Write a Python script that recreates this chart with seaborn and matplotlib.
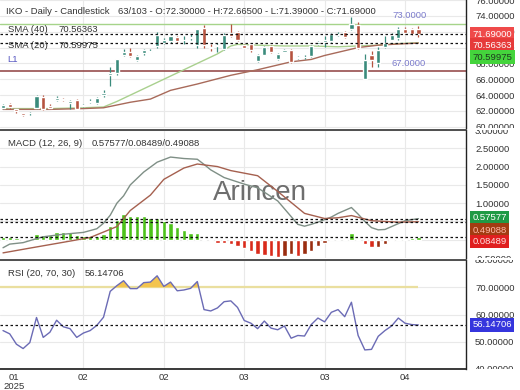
import numpy as np
import matplotlib
matplotlib.use("Agg")
import matplotlib.pyplot as plt
import seaborn as sns
from matplotlib.ticker import FormatStrFormatter
from matplotlib.transforms import Bbox, TransformedBbox

# daily candles (63 sessions)
opens = [62.4, 62.9, 62.2, 61.7, 61.7, 62.4, 63.8, 62.6, 63.4, 63.5,
         63.0, 63.4, 62.6, 63.1, 63.0, 64.0, 66.6, 66.8, 69.1, 69.5,
         68.4, 69.3, 69.5, 70.2, 70.6, 70.8, 71.3, 70.9, 71.2, 70.3,
         72.5, 70.1, 70.2, 69.8, 71.8, 72.0, 70.3, 70.5, 68.3, 69.1,
         70.2, 68.5, 69.5, 69.7, 68.7, 68.8, 68.9, 70.4, 70.7, 70.8,
         71.6, 72.0, 72.4, 72.8, 66.0, 69.0, 68.0, 70.1, 71.0, 71.2,
         72.4, 72.3, 72.3]
highs = [62.9, 63.0, 62.3, 61.8, 61.9, 64.0, 64.0, 62.9, 63.9, 63.6,
         63.4, 63.5, 62.9, 63.5, 63.7, 64.6, 67.5, 68.6, 69.8, 69.9,
         69.0, 69.8, 69.8, 71.9, 71.2, 71.6, 71.4, 71.4, 71.7, 72.4,
         72.8, 70.4, 70.6, 71.8, 73.0, 72.1, 70.4, 70.6, 69.2, 70.2,
         70.3, 69.3, 69.8, 69.8, 68.9, 69.0, 70.3, 70.8, 71.4, 71.8,
         71.9, 72.1, 73.9, 73.2, 69.2, 69.6, 70.1, 71.5, 71.8, 72.6,
         72.6, 72.5, 72.665]
lows = [62.3, 62.3, 61.7, 61.4, 61.5, 62.3, 62.1, 62.2, 63.2, 63.3,
        62.2, 62.2, 62.5, 63.0, 62.9, 63.8, 65.1, 66.6, 68.9, 68.8,
        68.3, 69.1, 69.4, 70.0, 70.4, 70.6, 70.6, 70.4, 70.9, 70.0,
        70.0, 69.6, 69.4, 69.7, 71.3, 70.8, 69.9, 69.5, 68.2, 69.0,
        69.3, 68.4, 69.4, 68.0, 68.5, 68.6, 68.8, 70.3, 70.1, 70.7,
        71.4, 71.2, 72.2, 69.8, 66.0, 67.6, 67.6, 69.9, 70.9, 71.0,
        71.7, 71.6, 71.39]
closes = [62.7, 62.5, 62.0, 61.5, 61.8, 63.9, 62.2, 62.4, 63.6, 63.4,
          63.2, 62.3, 62.8, 63.2, 63.6, 64.3, 66.8, 68.5, 69.4, 68.9,
          68.9, 69.7, 69.6, 71.6, 70.9, 71.4, 70.8, 71.0, 71.3, 72.3,
          70.3, 70.0, 70.3, 71.6, 71.5, 70.9, 70.0, 69.7, 69.1, 70.1,
          69.4, 69.2, 69.7, 68.2, 68.75, 68.85, 70.2, 70.7, 70.9, 71.7,
          71.7, 71.3, 73.0, 69.9, 68.4, 68.4, 69.7, 70.6, 71.6, 72.3,
          71.8, 71.7, 71.69]

# moving averages (read at a few candles)
sma20_idx = [0, 7, 12, 15, 17, 19, 22, 24, 27, 29, 32, 34, 35, 38, 42, 46, 50, 53, 56, 59, 62]
sma20_val = [62.3, 62.3, 62.4, 62.5, 63.2, 64.0, 65.2, 66.0, 67.2, 68.0, 69.2, 70.2, 70.4,
             70.3, 70.2, 70.2, 70.1, 70.2, 70.3, 70.5, 70.6]
sma40_idx = [0, 7, 12, 15, 19, 22, 25, 29, 34, 38, 43, 46, 48, 53, 56, 59, 62]
sma40_val = [62.2, 62.2, 62.3, 62.4, 63.1, 63.5, 64.6, 65.4, 66.5, 67.2, 68.2, 68.5, 69.0,
             70.0, 70.3, 70.45, 70.56]

# MACD (12, 26, 9)
macd_idx = [0, 1, 3, 5, 6, 9, 12, 14, 15, 16, 17, 18, 19, 21, 23, 25, 27, 29, 30, 31, 33, 36,
            38, 41, 44, 45, 46, 47, 48, 49, 50, 51, 52, 53, 54, 55, 56, 57, 58, 60, 62]
macd_val = [-0.22, -0.12, -0.08, 0.03, 0.08, 0.15, 0.2, 0.3, 0.45, 0.67, 1.0, 1.2, 1.5, 1.85,
            2.12, 2.26, 2.22, 2.2, 2.06, 1.91, 1.7, 1.52, 1.42, 1.06, 0.42, 0.37, 0.42, 0.48,
            0.55, 0.62, 0.72, 0.8, 0.88, 0.7, 0.5, 0.33, 0.27, 0.28, 0.36, 0.52, 0.576]
sig_idx = [0, 4, 9, 13, 17, 19, 22, 24, 27, 29, 32, 34, 38, 41, 45, 48, 50, 52, 55, 59, 62]
sig_val = [-0.36, -0.23, -0.07, 0.06, 0.36, 0.8, 1.22, 1.65, 1.96, 2.07, 2.0, 1.89, 1.75,
           1.32, 0.72, 0.58, 0.6, 0.66, 0.52, 0.48, 0.491]
hist = [0.08, 0.07, 0.05, 0.03, 0.02, 0.15, 0.13, 0.13, 0.22, 0.22,
        0.2, 0.13, 0.09, 0.09, 0.11, 0.15, 0.37, 0.54, 0.69, 0.66,
        0.65, 0.65, 0.6, 0.6, 0.52, 0.47, 0.34, 0.26, 0.17, 0.17,
        0.01, -0.04, -0.09, -0.1, -0.12, -0.17, -0.24, -0.32, -0.38, -0.42,
        -0.45, -0.46, -0.45, -0.4, -0.45, -0.4, -0.3, -0.17, -0.08, -0.02,
        0.02, 0.02, 0.19, 0.02, -0.13, -0.21, -0.21, -0.13, -0.04, 0.02,
        0.03, 0.05, 0.085]

# RSI (20)
rsi = [54.1, 52.9, 49.1, 47.5, 49.7, 58.9, 51.6, 53.5, 57.9, 55.5,
       54.8, 51.6, 53.2, 54.1, 56.0, 59.0, 68.5, 70.6, 72.4, 69.5,
       69.5, 71.7, 71.9, 74.2, 70.3, 71.9, 68.7, 69.0, 69.6, 72.1,
       61.8, 61.3, 62.4, 64.7, 65.0, 62.6, 57.8, 56.8, 54.8, 57.6,
       55.0, 54.4, 55.8, 51.3, 52.3, 52.1, 56.3, 58.7, 57.3, 60.8,
       61.8, 59.2, 64.5, 52.3, 47.0, 47.2, 52.0, 54.1, 55.8, 58.7,
       56.8, 56.3, 56.15]

tick_pos = [1.6, 12, 24, 36, 48, 60]
tick_lbl = ['01\n2025', '02', '02', '03', '03', '04']

sns.set_theme(style='white')
plt.rcParams['font.family'] = ['Liberation Sans', 'DejaVu Sans']
FS = 6.8
TXT = '#333333'

W, H = 520, 390
fig = plt.figure(figsize=(W / 100, H / 100), dpi=100)


def panel(top, bottom):
    return fig.add_axes([0, 1 - bottom / H, 466 / W, (bottom - top) / H])


ax1 = panel(0, 128)
ax2 = panel(130, 258)
ax3 = panel(260, 369)

x = np.arange(len(closes))
o, h, l, c = map(np.array, (opens, highs, lows, closes))
up = c >= o
UP, DN = '#3a8b7c', '#b5533f'
cols = np.where(up, UP, DN)

# ---- price panel ----
ax1.vlines(x, l, h, colors=cols, lw=0.9, zorder=3)
ax1.bar(x, np.maximum(np.abs(c - o), 0.06), bottom=np.minimum(o, c), width=0.62,
        color=cols, zorder=4)
sns.lineplot(x=sma20_idx, y=sma20_val, ax=ax1, color='#a9d08e', lw=1.0, zorder=2)
sns.lineplot(x=sma40_idx, y=sma40_val, ax=ax1, color='#a86a5a', lw=1.0, zorder=2)
ax1.axhline(73.0, color='#a6d48a', lw=1.0, zorder=1)
ax1.axhline(67.0, color='#8e3f3f', lw=1.1, zorder=1)
for v in (closes[-1], sma40_val[-1]):
    ax1.axhline(v, color='#111111', lw=0.9, ls=(0, (2, 2)), zorder=5)
ax1.set_ylim(59.85, 75.46)
ax1.set_yticks(np.arange(60, 77, 2))

# ---- MACD panel ----
hist = np.array(hist)
prev = np.r_[hist[0], hist[:-1]]
hcol = np.where(hist >= 0, '#4cc21a', np.where(hist < prev, '#d92a1a', '#9a2d10'))
ax2.bar(x, hist, width=0.65, color=hcol, zorder=2)
sns.lineplot(x=macd_idx, y=macd_val, ax=ax2, color='#7f8f86', lw=1.0, zorder=3)
sns.lineplot(x=sig_idx, y=sig_val, ax=ax2, color='#a5604f', lw=1.0, zorder=3)
for v in (0.57577, 0.49088, 0.08489):
    ax2.axhline(v, color='#111111', lw=0.9, ls=(0, (2, 2)), zorder=5)
ax2.set_ylim(-0.375, 2.93)
ax2.set_yticks(np.arange(-0.5, 3.01, 0.5))
ax2.text(260 / W, 1 - 193 / H, 'Arincen', transform=fig.transFigure, fontsize=20,
         color='#555555', alpha=0.85, ha='center', va='center', zorder=1)

# ---- RSI panel ----
r = np.array(rsi)
ax3.hlines(70, -0.45, x[-1], color='#eadf9f', lw=1.6, zorder=1)
ax3.fill_between(x, r, 70, where=r > 70, interpolate=True, color='#f3c44f', lw=0, zorder=2)
sns.lineplot(x=x, y=r, ax=ax3, color='#6b6bb5', lw=1.0, zorder=3)
ax3.axhline(rsi[-1], color='#111111', lw=0.9, ls=(0, (2, 2)), zorder=5)
ax3.set_ylim(43.65, 78.25)
ax3.set_yticks([40, 50, 60, 70, 80])

for ax in (ax1, ax2, ax3):
    ax.set_xlim(-0.45, 69.1)
    ax.set_xticks(tick_pos)
    ax.set_xticklabels(tick_lbl, linespacing=0.95)
    ax.yaxis.set_major_formatter(FormatStrFormatter('%.5f'))
    ax.grid(True, color='#e9e9e9', lw=0.8)
    ax.set_axisbelow(True)
    ax.xaxis.get_major_ticks()[0].gridline.set_visible(False)
    ax.yaxis.tick_right()
    ax.tick_params(axis='both', length=0, colors=TXT, labelsize=FS)
    ax.tick_params(axis='y', pad=6.5)
    ax.tick_params(axis='x', pad=3)
    ax.set_xlabel('')
    ax.set_ylabel('')
    for s in ax.spines.values():
        s.set_visible(False)
    ax.spines['right'].set_visible(True)
    ax.spines['right'].set_color('#222222')
    ax.spines['right'].set_linewidth(1.0)
    if ax is not ax3:
        ax.tick_params(axis='x', labelbottom=False)
    # clip the right-hand labels to the panel's own band
    pos = ax.get_position()
    band = TransformedBbox(Bbox([[pos.x1, pos.y0], [1, pos.y1]]), fig.transFigure)
    for t in ax.get_yticklabels():
        t.set_clip_on(True)
        t.set_clip_box(band)

for ax in (ax2, ax3):
    ax.spines['top'].set_visible(True)
    ax.spines['top'].set_color('#333333')
    ax.spines['top'].set_linewidth(1.2)
ax3.spines['bottom'].set_visible(True)
ax3.spines['bottom'].set_color('#222222')


def tag(ax, val, text, fc, tc, dy=0.0):
    ax.annotate(text, xy=(1, val), xycoords=('axes fraction', 'data'),
                xytext=(4.6, dy), textcoords='offset points', ha='left', va='center',
                fontsize=FS, color=tc, annotation_clip=False, zorder=10,
                bbox=dict(boxstyle='square,pad=0.25', fc=fc, ec='none'))


tag(ax1, 71.69, '71.69000', '#ef4a4a', 'white')
tag(ax1, 70.56363, '70.56363', '#e63a3a', 'white', -1.6)
tag(ax1, 70.59975, '70.59975', '#44d43c', '#1f3a1f', -10.4)
tag(ax2, 0.57577, '0.57577', '#1f9a45', 'white', 0.7)
tag(ax2, 0.49088, '0.49088', '#a23c12', '#ffb8a8', -6.1)
tag(ax2, 0.08489, '0.08489', '#e01f1f', '#ffe0e0', -3.5)
tag(ax3, 56.14706, '56.14706', '#3535dd', 'white')


def ftxt(px, py, s, color=TXT, **kw):
    fig.text(px / W, 1 - py / H, s, color=color, fontsize=FS, va='center', ha='left', **kw)


ftxt(6, 12, 'IKO - Daily - Candlestick')
ftxt(118, 12, '63/103 - O:72.30000 - H:72.66500 - L:71.39000 - C:71.69000')
ftxt(8, 30, 'SMA (40)')
ftxt(58, 30, '70.56363')
ftxt(8, 46, 'SMA (20)')
ftxt(58, 46, '70.59975')
ftxt(7, 60, 'L1', color='#5555c0')
ftxt(392, 15, '73.0000', color='#7b7bcc')
ftxt(392, 64, '67.0000', color='#7b7bcc')
ftxt(8, 143, 'MACD (12, 26, 9)')
ftxt(92, 143, '0.57577/0.08489/0.49088')
ftxt(8, 274, 'RSI (20, 70, 30)')
ftxt(85, 274, '56.14706')

fig.savefig('out.png', dpi=100, facecolor='white')
